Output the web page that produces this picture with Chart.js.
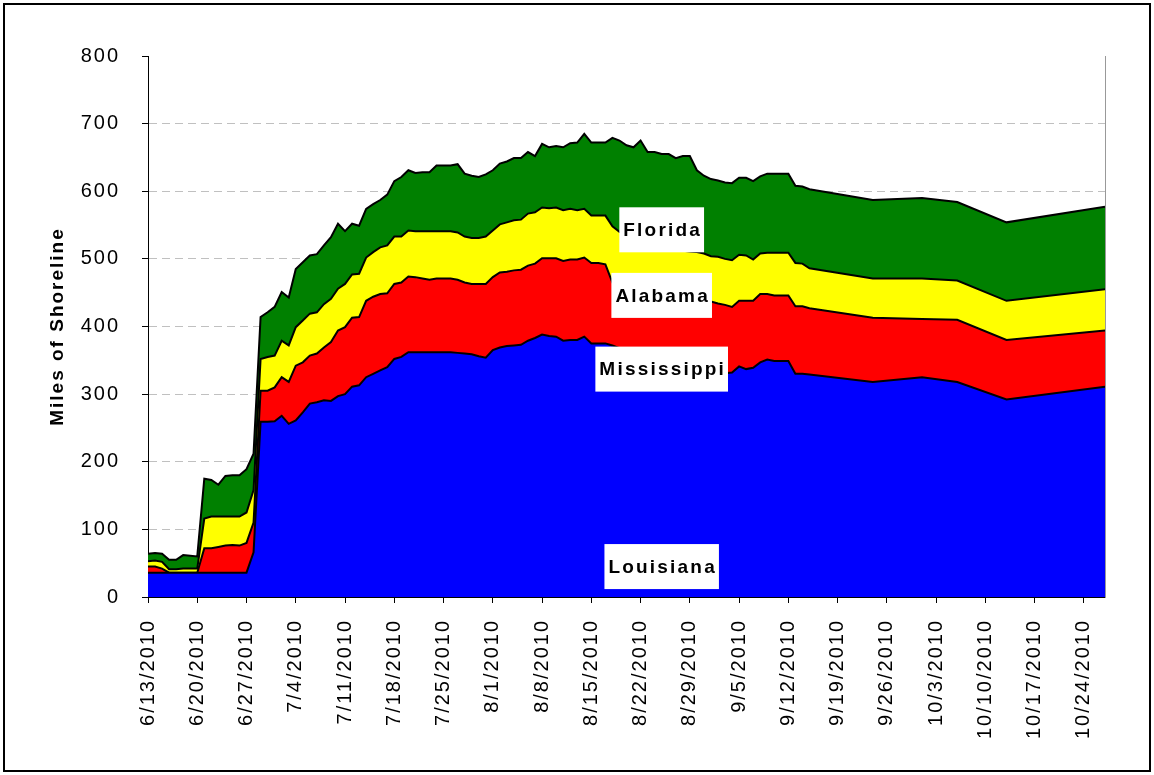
<!DOCTYPE html>
<html lang="en">
<head>
  <meta charset="UTF-8" />
  <title>Miles of Shoreline</title>
  <script src="https://cdn.jsdelivr.net/npm/chart.js"></script>
  <style>
    body {
      margin: 0;
      background: #fff;
    }
    .frame {
      position: relative;
      width: 1154px;
      height: 775px;
    }
    .frame canvas {
      position: absolute;
      left: 0;
      top: 0;
    }
    .border {
      position: absolute;
      left: 3px;
      top: 3px;
      width: 1148px;
      height: 769px;
      border: 2px solid #000;
      box-sizing: border-box;
      pointer-events: none;
    }
  </style>
</head>
<body>

<div class="frame">
  <canvas id="shoreChart" width="1154" height="775"></canvas>
  <div class="border"></div>
</div>

<script>
  // days since 6/13/2010 (daily to 9/15, then sparse)
  const days = [
    0, 1, 2, 3, 4, 5, 6, 7, 8, 9,
    10, 11, 12, 13, 14, 15, 16, 17, 18, 19,
    20, 21, 22, 23, 24, 25, 26, 27, 28, 29,
    30, 31, 32, 33, 34, 35, 36, 37, 38, 39,
    40, 41, 42, 43, 44, 45, 46, 47, 48, 49,
    50, 51, 52, 53, 54, 55, 56, 57, 58, 59,
    60, 61, 62, 63, 64, 65, 66, 67, 68, 69,
    70, 71, 72, 73, 74, 75, 76, 77, 78, 79,
    80, 81, 82, 83, 84, 85, 86, 87, 88, 89,
    90, 91, 92, 93, 94,
    103, 110, 115, 122, 136
  ];

  const weekLabels = [
    '6/13/2010', '6/20/2010', '6/27/2010', '7/4/2010', '7/11/2010',
    '7/18/2010', '7/25/2010', '8/1/2010', '8/8/2010', '8/15/2010',
    '8/22/2010', '8/29/2010', '9/5/2010', '9/12/2010', '9/19/2010',
    '9/26/2010', '10/3/2010', '10/10/2010', '10/17/2010', '10/24/2010'
  ];

  const louisiana = [
    36, 36, 36, 36, 36, 36, 36, 36, 36, 36,
    36, 36, 36, 36, 36, 66, 259, 259, 260, 268,
    256, 261, 273, 286, 288, 291, 290, 297, 300, 311,
    313, 325, 330, 335, 340, 352, 355, 362, 362, 362,
    362, 362, 362, 362, 361, 360, 359, 356, 354, 365,
    369, 371, 372, 373, 379, 383, 388, 386, 385, 379,
    380, 380, 385, 375, 375, 375, 372, 368, 364, 360,
    357, 354, 351, 348, 345, 343, 341, 339, 337, 335,
    333, 332, 331, 332, 341, 337, 339, 347, 351, 349,
    349, 349, 330, 330, 329,
    318, 325, 318, 292, 311
  ];

  const mississippi = [
    9, 9, 6, 0, 0, 0, 0, 0, 36, 36,
    38, 40, 41, 40, 44, 44, 46, 46, 50, 57,
    62, 81, 74, 71, 72, 78, 87, 97, 99, 102,
    101, 113, 114, 113, 109, 111, 110, 112, 111, 109,
    107, 109, 109, 109, 108, 105, 104, 107, 109, 108,
    111, 110, 111, 111, 111, 110, 113, 115, 116, 118,
    119, 119, 117, 119, 119, 117, 93, 90, 91, 92,
    93, 94, 95, 97, 99, 100, 101, 102, 103, 104,
    104, 102, 101, 97, 97, 101, 99, 101, 97, 97,
    97, 97, 100, 100, 98,
    95, 86, 92, 88, 83
  ];

  const alabama = [
    8, 9, 10, 5, 5, 6, 6, 6, 44, 47,
    45, 43, 42, 43, 45, 48, 47, 50, 47, 54,
    54, 57, 62, 62, 61, 64, 64, 62, 64, 64,
    64, 64, 66, 69, 71, 70, 68, 68, 68, 70,
    72, 70, 70, 70, 70, 68, 68, 68, 70, 69,
    71, 73, 74, 74, 77, 76, 75, 74, 75, 75,
    75, 73, 72, 70, 70, 72, 83, 82, 81, 80,
    78, 77, 76, 74, 72, 71, 70, 70, 70, 69,
    67, 69, 68, 69, 68, 67, 61, 60, 61, 63,
    63, 63, 64, 63, 59,
    58, 60, 58, 58, 61
  ];

  const florida = [
    11, 11, 12, 14, 14, 20, 19, 18, 59, 54,
    47, 60, 61, 61, 64, 54, 62, 66, 72, 72,
    71, 86, 86, 86, 86, 87, 91, 96, 78, 75,
    71, 72, 71, 70, 75, 82, 88, 89, 86, 87,
    87, 97, 97, 97, 101, 93, 92, 90, 92, 89,
    90, 90, 92, 91, 91, 83, 94, 90, 91, 93,
    97, 100, 111, 108, 108, 108, 131, 135, 132, 133,
    147, 133, 136, 136, 139, 135, 140, 141, 121, 115,
    114, 113, 113, 114, 114, 115, 116, 114, 117, 117,
    117, 117, 114, 114, 117,
    116, 119, 116, 116, 122
  ];

  const stateNames = ['Louisiana', 'Mississippi', 'Alabama', 'Florida'];
  const stateColors = ['#0000ff', '#ff0000', '#ffff00', '#008000'];

  // where the white name boxes sit (day, miles)
  const labelDay = [73, 73, 73, 73];
  const labelMiles = [45, 337, 446, 543];

  const FONT = '"Liberation Sans", Arial, sans-serif';
  const SPACING = '2px';

  // Excel-like wide text
  const letterSpacing = {
    id: 'letterSpacing',
    beforeUpdate(chart) { chart.ctx.letterSpacing = SPACING; },
    beforeDraw(chart) { chart.ctx.letterSpacing = SPACING; }
  };

  const stateLabels = {
    id: 'stateLabels',
    afterDatasetsDraw(chart) {
      const { ctx, scales: { x, y } } = chart;
      ctx.save();
      ctx.font = 'bold 19px ' + FONT;
      ctx.letterSpacing = '2.2px';
      ctx.textAlign = 'center';
      ctx.textBaseline = 'middle';
      stateNames.forEach((name, i) => {
        const px = x.getPixelForValue(labelDay[i]);
        const py = y.getPixelForValue(labelMiles[i]);
        const w = ctx.measureText(name).width + 6;
        const h = 45;
        ctx.fillStyle = '#fff';
        ctx.fillRect(px - w / 2, py - h / 2, w, h);
        ctx.fillStyle = '#000';
        ctx.fillText(name, px + 1, py + 1);
      });
      ctx.restore();
    }
  };

  function series(values) {
    return days.map((d, i) => ({ x: d, y: values[i] }));
  }

  const allValues = [louisiana, mississippi, alabama, florida];

  Chart.defaults.font.family = FONT;
  Chart.defaults.font.size = 20;
  Chart.defaults.color = '#000';

  new Chart(document.getElementById('shoreChart'), {
    type: 'line',
    data: {
      datasets: allValues.map((vals, i) => ({
        label: stateNames[i],
        data: series(vals),
        backgroundColor: stateColors[i],
        borderColor: '#000',
        borderWidth: 2,
        fill: i === 0 ? 'origin' : '-1',
        pointRadius: 0,
        tension: 0
      }))
    },
    options: {
      responsive: false,
      animation: false,
      layout: { padding: { top: 56, right: 49, left: 0, bottom: 0 } },
      plugins: {
        legend: { display: false },
        tooltip: { enabled: false }
      },
      scales: {
        x: {
          type: 'linear',
          min: 0,
          max: 136,
          afterFit(scale) { scale.height = 178; },
          grid: {
            drawOnChartArea: false,
            drawTicks: true,
            tickLength: 6,
            tickColor: '#000'
          },
          border: { color: '#000', width: 1 },
          ticks: {
            stepSize: 7,
            includeBounds: false,
            autoSkip: false,
            maxRotation: 90,
            minRotation: 90,
            padding: 16,
            callback: v => weekLabels[v / 7] ?? ''
          }
        },
        y: {
          stacked: true,
          min: 0,
          max: 800,
          afterFit(scale) { scale.width = 148; },
          grid: {
            color: ctx => (ctx.tick.value === 0 || ctx.tick.value === 800) ? 'rgba(0,0,0,0)' : '#c0c0c0',
            tickColor: '#000',
            tickLength: 6,
            tickBorderDash: []
          },
          border: { color: '#000', width: 1, dash: [8, 5] },
          ticks: {
            stepSize: 100,
            padding: 22
          },
          title: {
            display: true,
            text: 'Miles of Shoreline',
            font: { size: 19, weight: 'bold' },
            padding: { top: 46, bottom: 0 }
          }
        },
        yRight: {
          position: 'right',
          min: 0,
          max: 800,
          afterFit(scale) { scale.width = 0; },
          grid: { display: false },
          ticks: { display: false },
          border: { color: '#999', width: 1 }
        }
      }
    },
    plugins: [letterSpacing, stateLabels]
  });
</script>
</body>
</html>
